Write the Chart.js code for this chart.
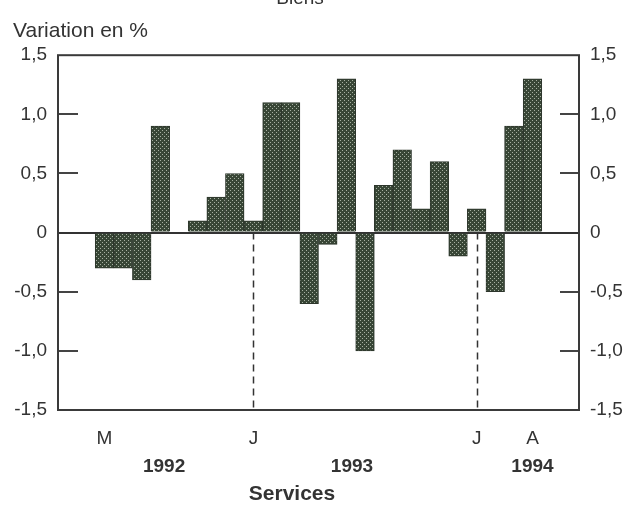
<!DOCTYPE html>
<html>
<head>
<meta charset="utf-8">
<script src="https://cdn.jsdelivr.net/npm/chart.js@4/dist/chart.umd.min.js"></script>
<style>
html,body{margin:0;padding:0;background:#fff}
#wrap{position:relative;width:634px;height:507px}
</style>
</head>
<body>
<div id="wrap"><canvas id="chartServices"></canvas></div>
<script>
// months May 1992 .. April 1994, with two empty slots either side
const monthLabels=['','','M','','','','','','','','J','','','','','','','','','','','','J','','','A','',''];
const values=[null,null,-0.3,-0.3,-0.4,0.9,0,0.1,0.3,0.5,0.1,1.1,1.1,-0.6,-0.1,1.3,-1.0,0.4,0.7,0.2,0.6,-0.2,0.2,-0.5,0.9,1.3,null,null];
const yearLabels=['1992','1993','1994'];
const yearAt=[5.2,15.3,25];
const dividerAt=[10,22];
const innerTicks=[1,0.5,-0.5,-1];

const FONT='"Liberation Sans", Arial, sans-serif';
const canvas=document.getElementById('chartServices');

function dotPattern(){
  const p=document.createElement('canvas');
  p.width=4;p.height=4;
  const g=p.getContext('2d');
  g.fillStyle='#384636';g.fillRect(0,0,4,4);
  g.fillStyle='#a7b0a2';g.fillRect(0,0,1,1);g.fillRect(2,2,1,1);
  return canvas.getContext('2d').createPattern(p,'repeat');
}

const fmt=v=>v===0?'0':v.toFixed(1).replace('.',',');

const decor={
  id:'decor',
  afterDraw(chart){
    const {ctx,chartArea:a,scales}=chart;
    const x=scales.x,y=scales.y;
    ctx.save();
    // dashed year dividers
    ctx.strokeStyle='#333';ctx.lineWidth=1.5;ctx.setLineDash([7,5]);
    dividerAt.forEach(i=>{
      const px=Math.round(x.getPixelForValue(i))+0.5;
      ctx.beginPath();ctx.moveTo(px,y.getPixelForValue(0));ctx.lineTo(px,a.bottom);ctx.stroke();
    });
    ctx.setLineDash([]);
    // inner ticks on both sides
    ctx.strokeStyle='#444';ctx.lineWidth=2;
    innerTicks.forEach(v=>{
      const py=Math.round(y.getPixelForValue(v));
      ctx.beginPath();ctx.moveTo(a.left,py);ctx.lineTo(a.left+20,py);ctx.stroke();
      ctx.beginPath();ctx.moveTo(a.right-19,py);ctx.lineTo(a.right,py);ctx.stroke();
    });
    // frame
    ctx.strokeStyle='#3a3a3a';ctx.lineWidth=2;
    ctx.strokeRect(a.left,a.top,a.right-a.left,a.bottom-a.top);
    // year labels and caption
    ctx.fillStyle='#333';ctx.font='bold 19px '+FONT;ctx.textAlign='center';ctx.textBaseline='middle';
    yearLabels.forEach((t,i)=>ctx.fillText(t,x.getPixelForValue(yearAt[i]),467));
    ctx.font='bold 21px '+FONT;
    ctx.fillText('Services',292,494);
    // cut-off heading
    ctx.font='19px '+FONT;ctx.textBaseline='alphabetic';
    ctx.fillText('Biens',300,4);
    ctx.restore();
  }
};

const chartServices=new Chart(canvas,{
  type:'bar',
  data:{
    labels:monthLabels,
    datasets:[{
      data:values,
      backgroundColor:dotPattern(),
      borderColor:'#2c352b',
      borderWidth:1,
      barPercentage:1,
      categoryPercentage:1
    }]
  },
  options:{
    responsive:true,
    maintainAspectRatio:false,
    animation:false,
    layout:{padding:{top:0,bottom:0,left:13,right:0}},
    plugins:{
      legend:{display:false},
      tooltip:{enabled:false},
      title:{display:true,text:'Variation en %',align:'start',color:'#333',
        font:{family:FONT,size:21,weight:'normal'},padding:{top:19,bottom:11}}
    },
    scales:{
      x:{
        grid:{display:false},
        border:{display:false},
        ticks:{autoSkip:false,maxRotation:0,color:'#333',padding:9,font:{family:FONT,size:19}},
        afterFit:s=>{s.height=97}
      },
      y:{
        position:'left',min:-1.5,max:1.5,
        grid:{drawTicks:false,color:c=>c.tick&&c.tick.value===0?'#333':'transparent',lineWidth:2},
        border:{display:false},
        ticks:{stepSize:0.5,padding:11,color:'#333',font:{family:FONT,size:19},callback:fmt},
        afterFit:s=>{s.width=45}
      },
      y2:{
        position:'right',min:-1.5,max:1.5,
        grid:{display:false,drawTicks:false},
        border:{display:false},
        ticks:{stepSize:0.5,padding:11,color:'#333',font:{family:FONT,size:19},callback:fmt},
        afterFit:s=>{s.width=55}
      }
    }
  },
  plugins:[decor]
});
</script>
</body>
</html>
